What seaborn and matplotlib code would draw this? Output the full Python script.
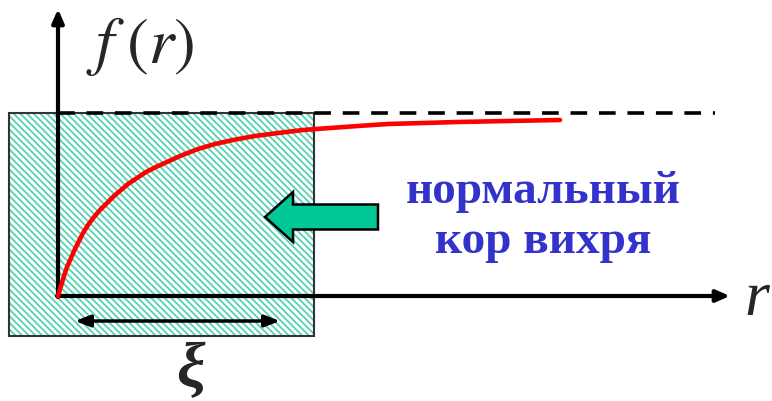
import matplotlib
matplotlib.use("Agg")
import matplotlib.pyplot as plt
import matplotlib.patches as mpatches
import seaborn as sns
import pandas as pd

# datos de la curva f(r) (origen en el cruce de ejes)
r_vals = [0, 3, 6, 9, 13, 17, 21, 25, 30, 36, 42, 49, 56, 63, 70, 79, 88, 98, 109, 122,
          140, 157, 175, 197, 220, 245, 272, 300, 330, 365, 400, 450, 502]
f_vals = [0, 10, 20, 29, 38, 47, 55, 63, 71, 79, 86, 93, 100, 106, 112, 118, 124, 129, 134, 140,
          147, 152, 156, 160, 163, 166, 168, 170, 172, 173, 174, 175, 176]
f_inf = 183          # asintota (linea discontinua)
xi_core = 256        # ancho del nucleo sombreado
core_left = -49
core_bottom = -40
xi_arrow = [17, 222]
label_lines = ["нормальный", "кор вихря"]
label_color = "#3333cc"

sns.set_style("white")
plt.rcParams["mathtext.fontset"] = "stix"
plt.rcParams["hatch.linewidth"] = 1.3
plt.rcParams["lines.scale_dashes"] = False

fig = plt.figure(figsize=(7.72, 4.01), dpi=100)
ax = fig.add_axes([0, 0, 1, 1])

# nucleo sombreado
ax.add_patch(mpatches.Rectangle((core_left, core_bottom), xi_core - core_left, f_inf - core_bottom,
                                facecolor="white", edgecolor="#55d2b4", hatch="\\\\\\\\\\", lw=0, zorder=1))
ax.add_patch(mpatches.Rectangle((core_left, core_bottom), xi_core - core_left, f_inf - core_bottom,
                                facecolor="none", edgecolor="#333333", lw=1.5, zorder=2))

# asintota
ax.plot([0, 657], [f_inf, f_inf], color="black", lw=2.6, linestyle=(0, (12, 8.5)), zorder=3)

# ejes con flechas
ax.annotate("", xy=(0, 287), xytext=(0, -1),
            arrowprops=dict(arrowstyle="-|>,head_length=0.8,head_width=0.35", lw=3, color="black",
                            shrinkA=0, shrinkB=0), zorder=4)
ax.annotate("", xy=(672, 0), xytext=(-1, 0),
            arrowprops=dict(arrowstyle="-|>,head_length=0.8,head_width=0.35", lw=3, color="black",
                            shrinkA=0, shrinkB=0), zorder=4)

# curva f(r)
df = pd.DataFrame({"r": r_vals, "f": f_vals})
sns.lineplot(data=df, x="r", y="f", color="red", lw=3.3, sort=False, estimator=None, ax=ax, zorder=5)
ax.set_xlim(-58, 714)
ax.set_ylim(-105, 296)
ax.axis("off")

# flecha xi
ax.annotate("", xy=(xi_arrow[1], -25), xytext=(xi_arrow[0], -25),
            arrowprops=dict(arrowstyle="<|-|>,head_length=0.9,head_width=0.35", lw=2.5, color="black",
                            shrinkA=0, shrinkB=0), zorder=4)

# flecha verde
ax.add_patch(mpatches.FancyArrow(320, 79, -113, 0, width=25, head_width=50, head_length=28,
                                 length_includes_head=True, facecolor="#00c896", edgecolor="black",
                                 lw=1.8, zorder=6))

# textos
ax.text(82, 250, r"$f\;(r)$", fontsize=47, ha="center", va="center")
ax.text(699, -4, "r", fontsize=46, ha="center", va="center", family="Liberation Serif", style="italic")
ax.text(132, -76, "ξ", fontsize=46, ha="center", va="center", family="Liberation Serif",
        style="italic", weight="bold")
ax.text(485, 93, label_lines[0], fontsize=34, ha="center", va="baseline",
        family="Liberation Serif", weight="bold", color=label_color)
ax.text(485, 43, label_lines[1], fontsize=34, ha="center", va="baseline",
        family="Liberation Serif", weight="bold", color=label_color)

plt.savefig("out.png", dpi=100)
